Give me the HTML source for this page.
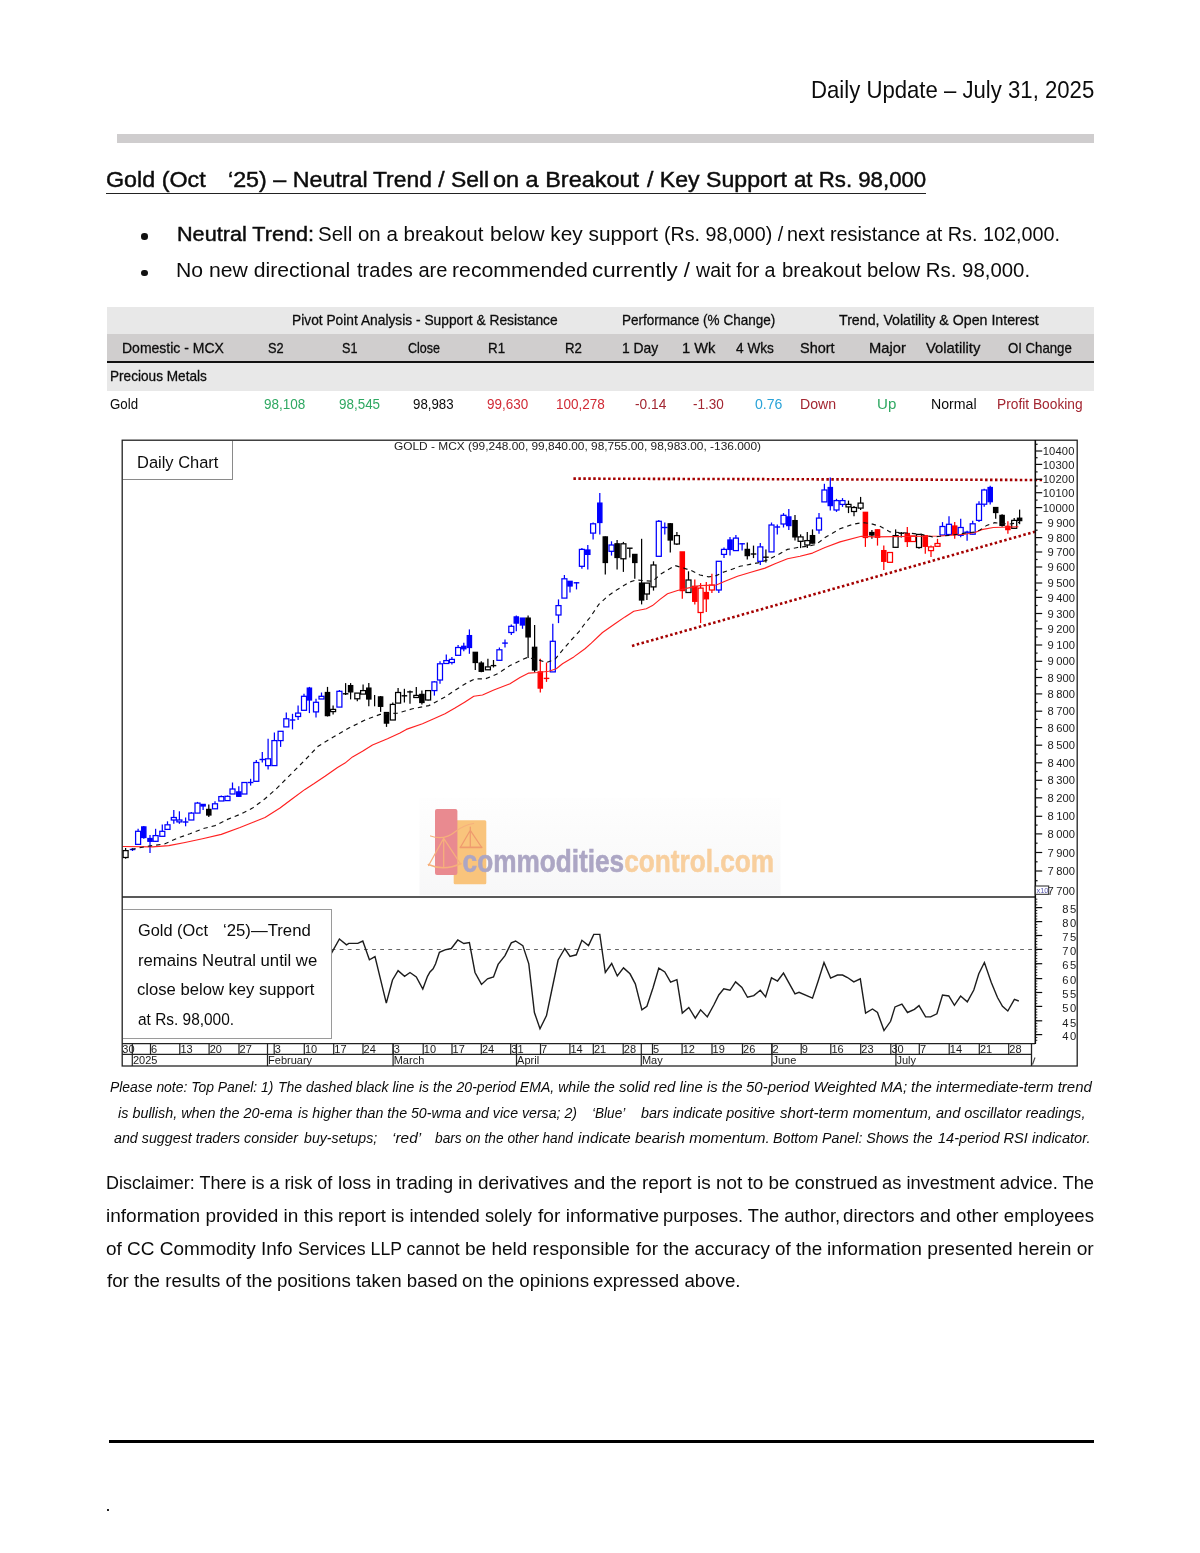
<!DOCTYPE html>
<html lang="en"><head><meta charset="utf-8"><title>Daily Update – July 31, 2025</title>
<style>
html,body{margin:0;padding:0;background:#fff;}
body{width:1200px;height:1553px;position:relative;overflow:hidden;font-family:"Liberation Sans","Noto Sans CJK SC",sans-serif;color:#0b0b0b;}
.t{position:absolute;white-space:nowrap;line-height:1;transform-origin:0 50%;}
.bx{position:absolute;}
</style></head><body>
<div class="bx" style="left:117px;top:134.2px;width:977px;height:8.4px;background:#cfcdce"></div>
<div class="bx" style="left:106.2px;top:192.9px;width:819.8px;height:1.5px;background:#222"></div>
<div class="bx" style="left:141.4px;top:233.4px;width:6.6px;height:6.6px;border-radius:50%;background:#111"></div>
<div class="bx" style="left:141.4px;top:269.6px;width:6.6px;height:6.6px;border-radius:50%;background:#111"></div>
<div class="bx" style="left:107.2px;top:306.5px;width:986.4px;height:27.2px;background:#e8e8e8"></div>
<div class="bx" style="left:107.2px;top:333.7px;width:986.4px;height:27.5px;background:#d0cece"></div>
<div class="bx" style="left:107.2px;top:361.3px;width:986.4px;height:1.6px;background:#111"></div>
<div class="bx" style="left:107.2px;top:363px;width:986.4px;height:27.9px;background:#e8e8e8"></div>
<svg id="chart" width="1200" height="1553" viewBox="0 0 1200 1553" style="position:absolute;left:0;top:0" font-family="'Liberation Sans', sans-serif">
<g id="wm" filter="url(#bl2)">
<defs><filter id="bl2" x="400" y="780" width="400" height="130" filterUnits="userSpaceOnUse"><feGaussianBlur stdDeviation="0.7"/></filter><linearGradient id="wg" x1="0" y1="0" x2="0" y2="1"><stop offset="0" stop-color="#fefefe"/><stop offset="0.45" stop-color="#fbfbfb"/><stop offset="1" stop-color="#f7f7f8"/></linearGradient></defs>
<rect x="419.5" y="798" width="361" height="97.2" fill="url(#wg)"/>
<rect x="453.7" y="820.3" width="32.6" height="64" rx="1.5" fill="#f9c47c"/>
<rect x="435" y="809" width="22.4" height="66" rx="2" fill="#e98a90"/>
<g fill="none" stroke="#f6b07c" stroke-width="1.25" stroke-linecap="round"><path d="M443.7 838.3 L428.6 865.5 M443.7 838.3 L460.6 864 M443.7 838.3 L443.7 867"/><path d="M428.3 864.5 Q444 871.5 461 863.5" stroke-width="1.5"/><path d="M430.5 836 Q444 841 455.5 831.5 Q464 825 473.5 823.5"/></g>
<g fill="none" stroke="#ef9b6e" stroke-width="1.25" stroke-linecap="round"><path d="M470.3 830.3 L460.6 847 M470.3 830.3 L481.4 847 M470.3 827 L470.3 847"/><path d="M460.3 847.3 L481.7 847.3" stroke-width="1.7"/></g>
<text x="462.6" y="871.5" font-size="31" font-weight="bold" textLength="311.5" lengthAdjust="spacingAndGlyphs"><tspan fill="#aca6c4" stroke="#aca6c4" stroke-width="0.6">commodities</tspan><tspan fill="#f8cf9e" stroke="#f8cf9e" stroke-width="0.6">control.com</tspan></text>
</g>
<filter id="bl" x="0" y="0" width="1200" height="1553" filterUnits="userSpaceOnUse"><feGaussianBlur stdDeviation="0.42"/></filter><g filter="url(#bl)">
<text x="394" y="450.3" font-size="11.4" fill="#222" textLength="367" lengthAdjust="spacingAndGlyphs">GOLD - MCX (99,248.00, 99,840.00, 98,755.00, 98,983.00, -136.000)</text>
<g id="candles" stroke-width="1.25">
<line x1="125.6" y1="848.0" x2="125.6" y2="858.7" stroke="#000"/>
<rect x="123.10" y="850.6" width="5.0" height="6.9" fill="#fff" stroke="#000"/>
<line x1="132.5" y1="848.0" x2="132.5" y2="851.0" stroke="#0000ff"/>
<line x1="129.7" y1="849.5" x2="135.3" y2="849.5" stroke="#0000ff" stroke-width="1.4"/>
<line x1="138.1" y1="828.8" x2="138.1" y2="844.4" stroke="#0000ff"/>
<rect x="135.60" y="831.3" width="5.0" height="13.1" fill="#fff" stroke="#0000ff"/>
<line x1="143.8" y1="826.0" x2="143.8" y2="838.8" stroke="#0000ff"/>
<rect x="141.65" y="826.9" width="4.3" height="10.6" fill="#0000ff" stroke="#0000ff"/>
<line x1="150.0" y1="835.0" x2="150.0" y2="853.0" stroke="#0000ff"/>
<rect x="147.85" y="838.5" width="4.3" height="2.8" fill="#0000ff" stroke="#0000ff"/>
<line x1="155.6" y1="828.8" x2="155.6" y2="842.0" stroke="#0000ff"/>
<rect x="153.10" y="835.6" width="5.0" height="5.7" fill="#fff" stroke="#0000ff"/>
<line x1="162.3" y1="824.4" x2="162.3" y2="836.3" stroke="#0000ff"/>
<rect x="159.80" y="831.3" width="5.0" height="5.0" fill="#fff" stroke="#0000ff"/>
<line x1="167.5" y1="821.3" x2="167.5" y2="829.4" stroke="#0000ff"/>
<rect x="165.00" y="824.8" width="5.0" height="4.6" fill="#fff" stroke="#0000ff"/>
<line x1="173.8" y1="810.0" x2="173.8" y2="823.8" stroke="#0000ff"/>
<rect x="171.30" y="817.5" width="5.0" height="2.5" fill="#fff" stroke="#0000ff"/>
<line x1="179.4" y1="811.3" x2="179.4" y2="823.8" stroke="#0000ff"/>
<rect x="176.90" y="820.0" width="5.0" height="1.9" fill="#fff" stroke="#0000ff"/>
<line x1="185.6" y1="817.5" x2="185.6" y2="826.3" stroke="#0000ff"/>
<line x1="182.8" y1="822.0" x2="188.4" y2="822.0" stroke="#0000ff" stroke-width="1.4"/>
<line x1="191.3" y1="811.9" x2="191.3" y2="820.0" stroke="#0000ff"/>
<rect x="188.80" y="813.1" width="5.0" height="6.9" fill="#fff" stroke="#0000ff"/>
<line x1="197.5" y1="801.9" x2="197.5" y2="813.1" stroke="#0000ff"/>
<rect x="195.00" y="803.1" width="5.0" height="10.0" fill="#fff" stroke="#0000ff"/>
<line x1="203.1" y1="804.0" x2="203.1" y2="810.0" stroke="#0000ff"/>
<rect x="200.95" y="804.4" width="4.3" height="1.6" fill="#0000ff" stroke="#0000ff"/>
<line x1="208.8" y1="804.4" x2="208.8" y2="816.9" stroke="#000"/>
<rect x="206.65" y="809.4" width="4.3" height="5.6" fill="#000" stroke="#000"/>
<line x1="215.0" y1="801.3" x2="215.0" y2="809.0" stroke="#0000ff"/>
<rect x="212.50" y="803.8" width="5.0" height="5.0" fill="#fff" stroke="#0000ff"/>
<line x1="221.3" y1="795.6" x2="221.3" y2="801.0" stroke="#0000ff"/>
<rect x="218.80" y="796.6" width="5.0" height="4.4" fill="#fff" stroke="#0000ff"/>
<line x1="227.5" y1="795.5" x2="227.5" y2="801.0" stroke="#0000ff"/>
<rect x="225.00" y="796.3" width="5.0" height="4.3" fill="#fff" stroke="#0000ff"/>
<line x1="232.5" y1="782.5" x2="232.5" y2="794.0" stroke="#0000ff"/>
<rect x="230.00" y="789.0" width="5.0" height="5.0" fill="#fff" stroke="#0000ff"/>
<line x1="238.8" y1="786.3" x2="238.8" y2="797.0" stroke="#0000ff"/>
<rect x="236.65" y="791.9" width="4.3" height="4.4" fill="#0000ff" stroke="#0000ff"/>
<line x1="244.4" y1="782.5" x2="244.4" y2="794.0" stroke="#0000ff"/>
<rect x="241.90" y="782.5" width="5.0" height="11.5" fill="#fff" stroke="#0000ff"/>
<line x1="250.6" y1="778.8" x2="250.6" y2="785.6" stroke="#0000ff"/>
<line x1="247.8" y1="782.5" x2="253.4" y2="782.5" stroke="#0000ff" stroke-width="1.4"/>
<line x1="256.3" y1="760.0" x2="256.3" y2="781.5" stroke="#0000ff"/>
<rect x="253.80" y="762.5" width="5.0" height="18.8" fill="#fff" stroke="#0000ff"/>
<line x1="262.3" y1="751.9" x2="262.3" y2="762.5" stroke="#0000ff"/>
<line x1="259.5" y1="759.5" x2="265.1" y2="759.5" stroke="#0000ff" stroke-width="1.4"/>
<line x1="268.1" y1="738.8" x2="268.1" y2="769.4" stroke="#0000ff"/>
<rect x="265.60" y="758.8" width="5.0" height="6.8" fill="#fff" stroke="#0000ff"/>
<line x1="274.4" y1="732.5" x2="274.4" y2="765.6" stroke="#0000ff"/>
<rect x="271.90" y="740.6" width="5.0" height="25.0" fill="#fff" stroke="#0000ff"/>
<line x1="280.6" y1="731.3" x2="280.6" y2="746.9" stroke="#0000ff"/>
<rect x="278.10" y="731.3" width="5.0" height="9.3" fill="#fff" stroke="#0000ff"/>
<line x1="286.3" y1="712.5" x2="286.3" y2="726.9" stroke="#0000ff"/>
<rect x="283.80" y="718.8" width="5.0" height="8.1" fill="#fff" stroke="#0000ff"/>
<line x1="292.5" y1="713.8" x2="292.5" y2="729.4" stroke="#0000ff"/>
<line x1="289.7" y1="720.0" x2="295.3" y2="720.0" stroke="#0000ff" stroke-width="1.4"/>
<line x1="298.1" y1="705.6" x2="298.1" y2="720.0" stroke="#0000ff"/>
<rect x="295.60" y="713.1" width="5.0" height="3.4" fill="#fff" stroke="#0000ff"/>
<line x1="304.0" y1="693.8" x2="304.0" y2="710.3" stroke="#0000ff"/>
<rect x="301.50" y="696.3" width="5.0" height="14.0" fill="#fff" stroke="#0000ff"/>
<line x1="309.4" y1="686.9" x2="309.4" y2="713.1" stroke="#0000ff"/>
<rect x="307.25" y="688.1" width="4.3" height="11.9" fill="#0000ff" stroke="#0000ff"/>
<line x1="316.0" y1="698.8" x2="316.0" y2="717.5" stroke="#0000ff"/>
<rect x="313.50" y="702.3" width="5.0" height="9.6" fill="#fff" stroke="#0000ff"/>
<line x1="321.5" y1="692.5" x2="321.5" y2="699.0" stroke="#0000ff"/>
<rect x="319.00" y="696.3" width="5.0" height="2.7" fill="#fff" stroke="#0000ff"/>
<line x1="327.5" y1="686.9" x2="327.5" y2="716.5" stroke="#000"/>
<rect x="325.35" y="692.5" width="4.3" height="23.1" fill="#000" stroke="#000"/>
<line x1="333.1" y1="705.6" x2="333.1" y2="714.4" stroke="#000"/>
<rect x="330.60" y="709.4" width="5.0" height="2.2" fill="#fff" stroke="#000"/>
<line x1="339.4" y1="690.0" x2="339.4" y2="707.1" stroke="#0000ff"/>
<rect x="336.90" y="691.3" width="5.0" height="15.8" fill="#fff" stroke="#0000ff"/>
<line x1="345.6" y1="683.1" x2="345.6" y2="695.0" stroke="#000"/>
<line x1="342.8" y1="693.8" x2="348.4" y2="693.8" stroke="#000" stroke-width="1.4"/>
<line x1="350.6" y1="683.1" x2="350.6" y2="699.4" stroke="#000"/>
<rect x="348.45" y="685.6" width="4.3" height="6.3" fill="#000" stroke="#000"/>
<line x1="357.3" y1="693.1" x2="357.3" y2="701.3" stroke="#000"/>
<rect x="354.80" y="693.1" width="5.0" height="5.7" fill="#fff" stroke="#000"/>
<line x1="363.1" y1="684.4" x2="363.1" y2="694.1" stroke="#000"/>
<rect x="360.60" y="690.6" width="5.0" height="3.5" fill="#fff" stroke="#000"/>
<line x1="368.8" y1="683.1" x2="368.8" y2="706.3" stroke="#000"/>
<rect x="366.65" y="688.1" width="4.3" height="10.9" fill="#000" stroke="#000"/>
<line x1="374.6" y1="695.0" x2="374.6" y2="706.3" stroke="#000"/>
<line x1="380.6" y1="696.0" x2="380.6" y2="711.9" stroke="#000"/>
<rect x="378.45" y="696.9" width="4.3" height="9.4" fill="#000" stroke="#000"/>
<line x1="386.5" y1="712.5" x2="386.5" y2="726.9" stroke="#000"/>
<rect x="384.35" y="712.5" width="4.3" height="10.6" fill="#000" stroke="#000"/>
<line x1="392.8" y1="702.5" x2="392.8" y2="720.0" stroke="#000"/>
<rect x="390.30" y="704.4" width="5.0" height="15.6" fill="#fff" stroke="#000"/>
<line x1="398.1" y1="688.1" x2="398.1" y2="703.1" stroke="#000"/>
<rect x="395.60" y="692.5" width="5.0" height="10.6" fill="#fff" stroke="#000"/>
<line x1="404.4" y1="688.8" x2="404.4" y2="702.5" stroke="#000"/>
<line x1="401.6" y1="695.8" x2="407.2" y2="695.8" stroke="#000" stroke-width="1.4"/>
<line x1="410.0" y1="690.6" x2="410.0" y2="703.8" stroke="#000"/>
<line x1="407.2" y1="691.9" x2="412.8" y2="691.9" stroke="#000" stroke-width="1.4"/>
<line x1="416.3" y1="686.9" x2="416.3" y2="698.0" stroke="#000"/>
<rect x="413.80" y="695.4" width="5.0" height="2.1" fill="#fff" stroke="#000"/>
<line x1="421.9" y1="690.6" x2="421.9" y2="704.4" stroke="#000"/>
<rect x="419.75" y="694.4" width="4.3" height="8.1" fill="#000" stroke="#000"/>
<line x1="428.1" y1="690.0" x2="428.1" y2="700.5" stroke="#000"/>
<rect x="425.60" y="690.6" width="5.0" height="9.4" fill="#fff" stroke="#000"/>
<line x1="434.4" y1="681.0" x2="434.4" y2="695.6" stroke="#0000ff"/>
<rect x="431.90" y="681.9" width="5.0" height="8.7" fill="#fff" stroke="#0000ff"/>
<line x1="440.0" y1="661.3" x2="440.0" y2="683.8" stroke="#0000ff"/>
<rect x="437.50" y="663.8" width="5.0" height="16.2" fill="#fff" stroke="#0000ff"/>
<line x1="446.3" y1="654.4" x2="446.3" y2="664.0" stroke="#0000ff"/>
<rect x="443.80" y="660.6" width="5.0" height="2.9" fill="#fff" stroke="#0000ff"/>
<line x1="451.9" y1="656.9" x2="451.9" y2="664.4" stroke="#0000ff"/>
<rect x="449.40" y="659.4" width="5.0" height="3.1" fill="#fff" stroke="#0000ff"/>
<line x1="458.1" y1="645.0" x2="458.1" y2="655.3" stroke="#0000ff"/>
<rect x="455.60" y="647.5" width="5.0" height="7.8" fill="#fff" stroke="#0000ff"/>
<line x1="463.8" y1="642.8" x2="463.8" y2="651.3" stroke="#0000ff"/>
<rect x="461.65" y="646.3" width="4.3" height="2.5" fill="#0000ff" stroke="#0000ff"/>
<line x1="469.4" y1="629.4" x2="469.4" y2="653.8" stroke="#0000ff"/>
<rect x="467.25" y="635.6" width="4.3" height="11.9" fill="#0000ff" stroke="#0000ff"/>
<line x1="475.3" y1="652.0" x2="475.3" y2="670.0" stroke="#000"/>
<rect x="473.15" y="652.3" width="4.3" height="10.2" fill="#000" stroke="#000"/>
<line x1="481.3" y1="661.3" x2="481.3" y2="672.3" stroke="#000"/>
<rect x="479.15" y="663.1" width="4.3" height="8.2" fill="#000" stroke="#000"/>
<line x1="487.9" y1="658.8" x2="487.9" y2="670.0" stroke="#000"/>
<rect x="485.40" y="666.9" width="5.0" height="2.9" fill="#fff" stroke="#000"/>
<line x1="493.5" y1="660.0" x2="493.5" y2="667.5" stroke="#000"/>
<line x1="490.7" y1="665.6" x2="496.3" y2="665.6" stroke="#000" stroke-width="1.4"/>
<line x1="499.4" y1="647.5" x2="499.4" y2="660.3" stroke="#0000ff"/>
<rect x="496.90" y="649.8" width="5.0" height="10.5" fill="#fff" stroke="#0000ff"/>
<line x1="505.0" y1="639.4" x2="505.0" y2="647.5" stroke="#0000ff"/>
<line x1="502.2" y1="643.1" x2="507.8" y2="643.1" stroke="#0000ff" stroke-width="1.4"/>
<line x1="511.3" y1="624.4" x2="511.3" y2="635.0" stroke="#0000ff"/>
<rect x="508.80" y="626.3" width="5.0" height="6.2" fill="#fff" stroke="#0000ff"/>
<line x1="516.3" y1="615.6" x2="516.3" y2="631.3" stroke="#0000ff"/>
<rect x="514.15" y="616.9" width="4.3" height="6.2" fill="#0000ff" stroke="#0000ff"/>
<line x1="522.5" y1="618.0" x2="522.5" y2="628.8" stroke="#0000ff"/>
<rect x="520.35" y="618.1" width="4.3" height="6.9" fill="#0000ff" stroke="#0000ff"/>
<line x1="528.1" y1="615.6" x2="528.1" y2="658.1" stroke="#000"/>
<rect x="525.95" y="618.1" width="4.3" height="18.8" fill="#000" stroke="#000"/>
<line x1="534.6" y1="625.0" x2="534.6" y2="672.5" stroke="#000"/>
<rect x="532.45" y="647.3" width="4.3" height="22.7" fill="#000" stroke="#000"/>
<line x1="540.3" y1="658.8" x2="540.3" y2="692.5" stroke="#ff0000"/>
<rect x="538.15" y="671.9" width="4.3" height="16.2" fill="#ff0000" stroke="#ff0000"/>
<line x1="546.5" y1="662.5" x2="546.5" y2="681.9" stroke="#ff0000"/>
<line x1="543.7" y1="678.4" x2="549.3" y2="678.4" stroke="#ff0000" stroke-width="1.4"/>
<line x1="552.8" y1="623.8" x2="552.8" y2="671.9" stroke="#0000ff"/>
<rect x="550.30" y="641.3" width="5.0" height="30.6" fill="#fff" stroke="#0000ff"/>
<line x1="558.5" y1="599.4" x2="558.5" y2="623.1" stroke="#0000ff"/>
<rect x="556.00" y="605.6" width="5.0" height="9.4" fill="#fff" stroke="#0000ff"/>
<line x1="564.4" y1="575.0" x2="564.4" y2="598.1" stroke="#0000ff"/>
<rect x="561.90" y="578.8" width="5.0" height="19.3" fill="#fff" stroke="#0000ff"/>
<line x1="570.0" y1="581.0" x2="570.0" y2="592.5" stroke="#0000ff"/>
<rect x="567.85" y="581.3" width="4.3" height="4.7" fill="#0000ff" stroke="#0000ff"/>
<line x1="576.5" y1="582.0" x2="576.5" y2="589.4" stroke="#0000ff"/>
<line x1="573.7" y1="582.8" x2="579.3" y2="582.8" stroke="#0000ff" stroke-width="1.4"/>
<line x1="581.9" y1="548.0" x2="581.9" y2="568.8" stroke="#0000ff"/>
<rect x="579.40" y="549.4" width="5.0" height="16.9" fill="#fff" stroke="#0000ff"/>
<line x1="587.8" y1="545.0" x2="587.8" y2="569.4" stroke="#0000ff"/>
<rect x="585.65" y="550.0" width="4.3" height="4.4" fill="#0000ff" stroke="#0000ff"/>
<line x1="593.1" y1="522.5" x2="593.1" y2="539.4" stroke="#0000ff"/>
<rect x="590.60" y="523.8" width="5.0" height="9.3" fill="#fff" stroke="#0000ff"/>
<line x1="599.8" y1="493.1" x2="599.8" y2="534.4" stroke="#0000ff"/>
<rect x="597.65" y="503.1" width="4.3" height="19.4" fill="#0000ff" stroke="#0000ff"/>
<line x1="605.3" y1="536.5" x2="605.3" y2="574.4" stroke="#000"/>
<rect x="603.15" y="536.9" width="4.3" height="25.6" fill="#000" stroke="#000"/>
<line x1="611.5" y1="541.3" x2="611.5" y2="555.6" stroke="#0000ff"/>
<rect x="609.00" y="545.0" width="5.0" height="6.3" fill="#fff" stroke="#0000ff"/>
<line x1="617.1" y1="540.0" x2="617.1" y2="569.4" stroke="#000"/>
<rect x="614.95" y="543.8" width="4.3" height="13.7" fill="#000" stroke="#000"/>
<line x1="623.4" y1="541.9" x2="623.4" y2="571.9" stroke="#000"/>
<rect x="620.90" y="543.8" width="5.0" height="15.0" fill="#fff" stroke="#000"/>
<line x1="629.8" y1="548.0" x2="629.8" y2="557.5" stroke="#000"/>
<line x1="627.0" y1="548.2" x2="632.6" y2="548.2" stroke="#000" stroke-width="1.4"/>
<line x1="634.8" y1="554.0" x2="634.8" y2="578.8" stroke="#000"/>
<rect x="632.65" y="554.4" width="4.3" height="8.1" fill="#000" stroke="#000"/>
<line x1="641.6" y1="538.8" x2="641.6" y2="604.4" stroke="#000"/>
<rect x="639.45" y="583.1" width="4.3" height="16.9" fill="#000" stroke="#000"/>
<line x1="646.9" y1="583.1" x2="646.9" y2="600.0" stroke="#000"/>
<rect x="644.40" y="583.1" width="5.0" height="10.9" fill="#fff" stroke="#000"/>
<line x1="653.5" y1="561.3" x2="653.5" y2="590.6" stroke="#000"/>
<rect x="651.00" y="565.0" width="5.0" height="21.9" fill="#fff" stroke="#000"/>
<line x1="658.8" y1="520.0" x2="658.8" y2="556.3" stroke="#0000ff"/>
<rect x="656.30" y="521.3" width="5.0" height="35.0" fill="#fff" stroke="#0000ff"/>
<line x1="664.8" y1="522.5" x2="664.8" y2="534.4" stroke="#0000ff"/>
<line x1="662.0" y1="527.5" x2="667.6" y2="527.5" stroke="#0000ff" stroke-width="1.4"/>
<line x1="670.3" y1="523.0" x2="670.3" y2="552.5" stroke="#000"/>
<rect x="668.15" y="523.8" width="4.3" height="16.2" fill="#000" stroke="#000"/>
<line x1="676.9" y1="531.9" x2="676.9" y2="545.0" stroke="#000"/>
<rect x="674.40" y="535.6" width="5.0" height="8.4" fill="#fff" stroke="#000"/>
<line x1="682.3" y1="551.9" x2="682.3" y2="598.8" stroke="#ff0000"/>
<rect x="680.15" y="551.9" width="4.3" height="38.7" fill="#ff0000" stroke="#ff0000"/>
<line x1="688.5" y1="571.3" x2="688.5" y2="592.5" stroke="#000"/>
<rect x="686.00" y="580.0" width="5.0" height="12.5" fill="#fff" stroke="#000"/>
<line x1="694.8" y1="579.4" x2="694.8" y2="604.4" stroke="#ff0000"/>
<rect x="692.65" y="586.3" width="4.3" height="15.0" fill="#ff0000" stroke="#ff0000"/>
<line x1="700.6" y1="583.1" x2="700.6" y2="623.1" stroke="#ff0000"/>
<rect x="698.10" y="588.1" width="5.0" height="24.4" fill="#fff" stroke="#ff0000"/>
<line x1="706.3" y1="581.9" x2="706.3" y2="611.9" stroke="#ff0000"/>
<rect x="704.15" y="592.5" width="4.3" height="6.3" fill="#ff0000" stroke="#ff0000"/>
<line x1="711.9" y1="573.8" x2="711.9" y2="593.1" stroke="#ff0000"/>
<rect x="709.40" y="585.0" width="5.0" height="5.0" fill="#fff" stroke="#ff0000"/>
<line x1="718.8" y1="561.0" x2="718.8" y2="593.1" stroke="#0000ff"/>
<rect x="716.30" y="561.3" width="5.0" height="28.7" fill="#fff" stroke="#0000ff"/>
<line x1="724.0" y1="547.5" x2="724.0" y2="558.1" stroke="#0000ff"/>
<rect x="721.50" y="549.4" width="5.0" height="5.0" fill="#fff" stroke="#0000ff"/>
<line x1="730.0" y1="536.9" x2="730.0" y2="555.6" stroke="#0000ff"/>
<rect x="727.85" y="540.0" width="4.3" height="9.4" fill="#0000ff" stroke="#0000ff"/>
<line x1="735.9" y1="535.0" x2="735.9" y2="551.0" stroke="#0000ff"/>
<rect x="733.40" y="538.1" width="5.0" height="12.5" fill="#fff" stroke="#0000ff"/>
<line x1="742.1" y1="543.1" x2="742.1" y2="550.6" stroke="#0000ff"/>
<line x1="739.3" y1="543.8" x2="744.9" y2="543.8" stroke="#0000ff" stroke-width="1.4"/>
<line x1="747.3" y1="542.5" x2="747.3" y2="559.4" stroke="#000"/>
<rect x="745.15" y="549.4" width="4.3" height="6.2" fill="#000" stroke="#000"/>
<line x1="753.5" y1="545.6" x2="753.5" y2="558.1" stroke="#000"/>
<line x1="750.7" y1="554.0" x2="756.3" y2="554.0" stroke="#000" stroke-width="1.4"/>
<line x1="760.3" y1="543.1" x2="760.3" y2="565.0" stroke="#0000ff"/>
<rect x="757.80" y="546.9" width="5.0" height="14.4" fill="#fff" stroke="#0000ff"/>
<line x1="765.9" y1="549.4" x2="765.9" y2="562.5" stroke="#000"/>
<line x1="763.1" y1="557.2" x2="768.7" y2="557.2" stroke="#000" stroke-width="1.4"/>
<line x1="771.5" y1="522.5" x2="771.5" y2="552.0" stroke="#0000ff"/>
<rect x="769.00" y="525.0" width="5.0" height="26.9" fill="#fff" stroke="#0000ff"/>
<line x1="777.3" y1="524.4" x2="777.3" y2="534.4" stroke="#0000ff"/>
<line x1="774.5" y1="527.0" x2="780.1" y2="527.0" stroke="#0000ff" stroke-width="1.4"/>
<line x1="783.5" y1="513.1" x2="783.5" y2="527.5" stroke="#0000ff"/>
<rect x="781.00" y="515.3" width="5.0" height="8.7" fill="#fff" stroke="#0000ff"/>
<line x1="788.8" y1="509.0" x2="788.8" y2="530.0" stroke="#0000ff"/>
<rect x="786.65" y="516.9" width="4.3" height="8.7" fill="#0000ff" stroke="#0000ff"/>
<line x1="795.0" y1="515.0" x2="795.0" y2="540.6" stroke="#000"/>
<rect x="792.85" y="520.6" width="4.3" height="16.3" fill="#000" stroke="#000"/>
<line x1="800.6" y1="534.4" x2="800.6" y2="548.1" stroke="#000"/>
<rect x="798.10" y="536.9" width="5.0" height="4.4" fill="#fff" stroke="#000"/>
<line x1="807.3" y1="531.9" x2="807.3" y2="548.1" stroke="#000"/>
<rect x="804.80" y="540.6" width="5.0" height="4.4" fill="#fff" stroke="#000"/>
<line x1="812.5" y1="529.4" x2="812.5" y2="543.5" stroke="#000"/>
<rect x="810.35" y="535.6" width="4.3" height="7.5" fill="#000" stroke="#000"/>
<line x1="819.0" y1="513.1" x2="819.0" y2="533.8" stroke="#0000ff"/>
<rect x="816.50" y="518.1" width="5.0" height="11.9" fill="#fff" stroke="#0000ff"/>
<line x1="824.4" y1="483.8" x2="824.4" y2="502.0" stroke="#0000ff"/>
<rect x="821.90" y="490.0" width="5.0" height="11.9" fill="#fff" stroke="#0000ff"/>
<line x1="830.3" y1="477.5" x2="830.3" y2="510.6" stroke="#0000ff"/>
<rect x="828.15" y="487.5" width="4.3" height="18.1" fill="#0000ff" stroke="#0000ff"/>
<line x1="836.5" y1="498.8" x2="836.5" y2="511.9" stroke="#0000ff"/>
<rect x="834.00" y="500.6" width="5.0" height="9.4" fill="#fff" stroke="#0000ff"/>
<line x1="842.5" y1="498.1" x2="842.5" y2="506.9" stroke="#0000ff"/>
<rect x="840.00" y="500.6" width="5.0" height="3.8" fill="#fff" stroke="#0000ff"/>
<line x1="848.5" y1="500.6" x2="848.5" y2="513.1" stroke="#000"/>
<rect x="846.00" y="504.4" width="5.0" height="2.5" fill="#fff" stroke="#000"/>
<line x1="854.0" y1="506.0" x2="854.0" y2="516.3" stroke="#000"/>
<rect x="851.50" y="507.5" width="5.0" height="4.0" fill="#fff" stroke="#000"/>
<line x1="860.6" y1="496.9" x2="860.6" y2="510.0" stroke="#000"/>
<rect x="858.10" y="503.1" width="5.0" height="5.0" fill="#fff" stroke="#000"/>
<line x1="865.4" y1="512.0" x2="865.4" y2="546.9" stroke="#ff0000"/>
<rect x="863.25" y="512.3" width="4.3" height="25.2" fill="#ff0000" stroke="#ff0000"/>
<line x1="871.9" y1="530.0" x2="871.9" y2="538.8" stroke="#000"/>
<rect x="869.75" y="532.5" width="4.3" height="2.5" fill="#000" stroke="#000"/>
<line x1="877.5" y1="529.5" x2="877.5" y2="545.6" stroke="#ff0000"/>
<rect x="875.35" y="529.8" width="4.3" height="7.5" fill="#ff0000" stroke="#ff0000"/>
<line x1="883.8" y1="545.6" x2="883.8" y2="570.0" stroke="#ff0000"/>
<rect x="881.65" y="550.6" width="4.3" height="10.7" fill="#ff0000" stroke="#ff0000"/>
<line x1="890.0" y1="552.0" x2="890.0" y2="562.5" stroke="#ff0000"/>
<rect x="887.50" y="552.5" width="5.0" height="9.8" fill="#fff" stroke="#ff0000"/>
<line x1="895.6" y1="529.4" x2="895.6" y2="547.5" stroke="#000"/>
<rect x="893.10" y="535.6" width="5.0" height="11.7" fill="#fff" stroke="#000"/>
<line x1="901.3" y1="532.0" x2="901.3" y2="537.5" stroke="#000"/>
<line x1="898.5" y1="533.2" x2="904.1" y2="533.2" stroke="#000" stroke-width="1.4"/>
<line x1="907.3" y1="526.9" x2="907.3" y2="546.9" stroke="#ff0000"/>
<rect x="905.15" y="533.5" width="4.3" height="8.0" fill="#ff0000" stroke="#ff0000"/>
<line x1="913.1" y1="536.0" x2="913.1" y2="542.0" stroke="#ff0000"/>
<rect x="910.60" y="536.0" width="5.0" height="5.5" fill="#fff" stroke="#ff0000"/>
<line x1="919.0" y1="534.0" x2="919.0" y2="548.8" stroke="#000"/>
<rect x="916.50" y="534.4" width="5.0" height="13.1" fill="#fff" stroke="#000"/>
<line x1="925.3" y1="535.0" x2="925.3" y2="553.8" stroke="#ff0000"/>
<rect x="923.15" y="535.6" width="4.3" height="10.7" fill="#ff0000" stroke="#ff0000"/>
<line x1="931.0" y1="545.6" x2="931.0" y2="556.9" stroke="#ff0000"/>
<rect x="928.50" y="546.9" width="5.0" height="3.7" fill="#fff" stroke="#ff0000"/>
<line x1="937.5" y1="538.8" x2="937.5" y2="546.5" stroke="#ff0000"/>
<rect x="935.00" y="543.5" width="5.0" height="2.8" fill="#fff" stroke="#ff0000"/>
<line x1="942.5" y1="522.1" x2="942.5" y2="535.0" stroke="#0000ff"/>
<rect x="940.00" y="526.5" width="5.0" height="8.5" fill="#fff" stroke="#0000ff"/>
<line x1="949.0" y1="516.3" x2="949.0" y2="535.0" stroke="#0000ff"/>
<rect x="946.50" y="524.3" width="5.0" height="10.2" fill="#fff" stroke="#0000ff"/>
<line x1="954.7" y1="522.1" x2="954.7" y2="538.8" stroke="#ff0000"/>
<rect x="952.55" y="526.0" width="4.3" height="8.5" fill="#ff0000" stroke="#ff0000"/>
<line x1="960.7" y1="518.8" x2="960.7" y2="537.3" stroke="#0000ff"/>
<rect x="958.20" y="527.5" width="5.0" height="7.8" fill="#fff" stroke="#0000ff"/>
<line x1="967.1" y1="530.8" x2="967.1" y2="540.8" stroke="#0000ff"/>
<line x1="964.3" y1="532.2" x2="969.9" y2="532.2" stroke="#0000ff" stroke-width="1.4"/>
<line x1="972.7" y1="520.8" x2="972.7" y2="534.5" stroke="#0000ff"/>
<rect x="970.20" y="523.8" width="5.0" height="10.4" fill="#fff" stroke="#0000ff"/>
<line x1="979.0" y1="501.3" x2="979.0" y2="522.1" stroke="#0000ff"/>
<rect x="976.50" y="504.2" width="5.0" height="16.2" fill="#fff" stroke="#0000ff"/>
<line x1="984.2" y1="488.8" x2="984.2" y2="506.7" stroke="#0000ff"/>
<rect x="981.70" y="490.0" width="5.0" height="14.2" fill="#fff" stroke="#0000ff"/>
<line x1="990.2" y1="485.8" x2="990.2" y2="504.6" stroke="#0000ff"/>
<rect x="988.05" y="487.5" width="4.3" height="14.2" fill="#0000ff" stroke="#0000ff"/>
<line x1="995.7" y1="507.5" x2="995.7" y2="518.8" stroke="#000"/>
<rect x="993.55" y="507.5" width="4.3" height="5.0" fill="#000" stroke="#000"/>
<line x1="1002.1" y1="514.2" x2="1002.1" y2="526.7" stroke="#000"/>
<rect x="999.95" y="515.4" width="4.3" height="10.0" fill="#000" stroke="#000"/>
<line x1="1007.9" y1="521.3" x2="1007.9" y2="533.8" stroke="#ff0000"/>
<rect x="1005.75" y="526.3" width="4.3" height="3.3" fill="#ff0000" stroke="#ff0000"/>
<line x1="1014.2" y1="517.9" x2="1014.2" y2="528.5" stroke="#000"/>
<rect x="1011.70" y="520.4" width="5.0" height="7.9" fill="#fff" stroke="#000"/>
<line x1="1019.6" y1="509.6" x2="1019.6" y2="524.2" stroke="#000"/>
<rect x="1017.45" y="518.2" width="4.3" height="2.4" fill="#000" stroke="#000"/>
</g>
<g stroke="#a50000" stroke-width="2.6" stroke-dasharray="2.5 2.46" fill="none">
<line x1="573.4" y1="478.6" x2="1042" y2="480"/>
<line x1="632" y1="645.9" x2="1036.5" y2="531.3"/>
</g>
<polyline fill="none" stroke="#ff2020" stroke-width="1.15" stroke-linejoin="round" points="122.5,846.5 152.5,846.9 168.8,845.6 185.0,842.5 202.5,838.8 221.3,834.4 240.0,827.5 252.5,822.5 265.0,817.5 280.0,808.0 292.0,799.0 305.0,789.4 313.8,783.8 325.0,776.3 337.5,767.5 345.0,763.1 352.5,756.9 362.5,751.3 372.5,745.0 387.5,738.8 400.0,733.1 406.3,729.4 422.5,723.8 433.8,718.8 445.0,713.8 455.0,708.1 465.0,701.9 473.8,696.3 482.5,695.0 493.8,690.0 510.0,683.8 520.0,677.5 528.8,673.1 537.5,672.5 548.8,671.3 556.3,668.8 562.5,663.8 573.8,656.9 585.0,648.8 591.3,643.1 602.5,632.5 615.0,623.8 625.0,616.9 633.8,611.3 646.3,608.8 652.5,605.6 660.0,599.4 667.5,593.8 677.5,590.5 687.5,588.1 700.0,585.6 716.3,585.0 725.0,581.3 737.5,576.3 750.0,572.5 765.0,568.1 775.0,563.8 787.5,558.8 800.0,556.3 812.5,553.1 825.0,547.5 840.0,541.9 861.3,536.3 875.0,536.9 940.0,536.0 965.0,534.2 975.0,532.5 981.7,529.6 993.3,527.5 1018.3,526.7"/>
<polyline fill="none" stroke="#111" stroke-width="1.15" stroke-dasharray="4.4 4" points="131.3,849.4 146.3,846.5 165.0,843.8 177.5,838.1 190.0,833.8 202.5,828.8 215.0,825.6 227.5,819.4 240.0,814.4 252.5,808.1 265.0,798.8 276.3,788.8 291.3,773.8 305.0,760.0 318.1,746.3 332.5,737.5 348.8,728.1 365.0,720.0 380.0,714.4 397.5,713.1 412.5,708.8 428.8,705.6 433.8,703.1 445.0,696.9 456.3,689.4 467.5,682.5 475.0,678.8 485.0,679.0 497.5,673.8 510.0,665.6 522.5,659.4 527.5,657.5 538.8,660.0 546.3,662.5 555.0,659.4 560.0,653.1 571.3,640.0 578.8,631.9 583.8,625.0 590.0,617.5 598.8,604.4 607.5,596.3 617.5,589.4 630.0,581.9 636.3,580.0 652.5,581.3 661.3,573.8 675.0,565.6 683.8,568.1 691.3,570.6 700.0,575.0 708.8,576.9 716.3,575.6 722.5,572.5 730.0,570.0 740.0,566.3 750.0,564.4 760.0,562.5 768.8,559.4 777.5,555.0 787.5,549.4 797.5,547.5 807.5,546.3 816.3,544.4 825.0,537.5 840.0,528.8 852.5,524.4 862.5,522.5 871.3,523.8 880.0,526.3 890.0,531.9 900.0,532.5 910.0,533.1 921.3,534.4 932.5,536.9 940.0,536.3 952.5,535.0 965.0,533.1 975.0,532.0 980.0,530.0 986.7,525.4 994.6,522.7 1002.0,523.5 1010.0,524.0 1019.0,522.5"/>
<line x1="331.6" y1="949.5" x2="1034" y2="949.5" stroke="#666" stroke-width="1.2" stroke-dasharray="3.8 4.3"/>
<polyline fill="none" stroke="#1c1c1c" stroke-width="1.4" stroke-linejoin="miter" points="331.5,953.1 339.4,939.0 346.5,944.8 348.8,943.4 357.8,943.4 362.8,941.0 369.4,959.8 375.0,956.6 386.3,1003.1 392.5,980.0 398.1,970.6 404.6,976.3 410.0,972.5 416.3,976.9 422.8,989.0 427.5,976.3 430.0,971.9 433.1,968.8 435.6,963.8 439.4,952.3 445.0,949.8 451.3,948.5 457.8,940.0 463.8,943.5 469.4,942.5 475.0,972.5 481.5,984.4 487.5,978.8 493.5,976.9 498.1,964.4 505.0,955.6 511.3,942.9 515.6,941.0 522.8,945.6 528.8,963.8 534.4,1012.5 540.0,1028.8 546.5,1015.6 551.3,992.5 558.1,960.0 564.8,948.5 570.0,956.5 576.3,954.8 581.9,940.3 588.5,945.6 593.8,934.4 599.8,934.4 605.3,972.5 611.7,963.5 617.3,976.0 623.5,967.9 630.0,973.8 635.3,983.8 641.9,1009.8 646.9,1006.3 653.1,987.5 658.8,968.1 664.8,971.9 670.6,982.1 676.9,979.6 682.3,1013.1 688.8,1007.5 695.3,1018.1 700.6,1009.8 707.3,1016.9 713.8,1005.0 718.8,995.0 723.8,988.8 730.0,990.3 735.6,981.9 741.9,987.5 747.5,997.3 753.8,995.6 760.3,990.3 765.6,996.9 771.5,977.8 777.5,981.0 783.5,973.1 795.0,993.8 799.0,992.3 812.5,998.1 818.1,981.3 824.0,962.5 830.6,978.1 837.5,975.0 842.5,975.0 847.5,977.5 853.8,981.9 860.3,978.8 865.6,1013.1 872.5,1009.0 877.5,1012.5 884.0,1030.6 890.6,1021.3 895.0,1006.9 901.9,1004.0 907.5,1012.5 914.4,1009.4 919.0,1005.6 925.6,1016.9 930.6,1016.9 936.9,1013.8 942.5,995.0 948.8,996.0 954.4,1005.3 960.6,996.0 967.3,1001.9 973.8,990.0 978.8,973.8 984.4,962.5 991.3,982.5 997.5,997.5 1002.5,1006.3 1007.8,1011.0 1014.4,999.4 1018.8,1001.0"/>
<g stroke="#222" stroke-width="1.3" fill="none">
<rect x="122.2" y="440.2" width="955" height="625.8"/>
<line x1="122" y1="897" x2="1035" y2="897"/>
<line x1="122" y1="1043.6" x2="1035" y2="1043.6"/>
<line x1="122" y1="1054.3" x2="1031.5" y2="1054.3"/>
<line x1="1031.5" y1="1043.6" x2="1031.5" y2="1066"/>
</g>
<line x1="1035.3" y1="440" x2="1035.3" y2="1044" stroke="#111" stroke-width="1.6"/>
<g stroke="#111" stroke-width="1.2">
<line x1="1035.3" y1="451.0" x2="1042.2" y2="451.0"/>
<line x1="1035.3" y1="457.7" x2="1037.6" y2="457.7"/>
<line x1="1035.3" y1="464.4" x2="1042.2" y2="464.4"/>
<line x1="1035.3" y1="471.9" x2="1037.6" y2="471.9"/>
<line x1="1035.3" y1="479.3" x2="1042.2" y2="479.3"/>
<line x1="1035.3" y1="486.0" x2="1037.6" y2="486.0"/>
<line x1="1035.3" y1="492.7" x2="1042.2" y2="492.7"/>
<line x1="1035.3" y1="500.1" x2="1037.6" y2="500.1"/>
<line x1="1035.3" y1="507.6" x2="1042.2" y2="507.6"/>
<line x1="1035.3" y1="515.2" x2="1037.6" y2="515.2"/>
<line x1="1035.3" y1="522.7" x2="1042.2" y2="522.7"/>
<line x1="1035.3" y1="530.2" x2="1037.6" y2="530.2"/>
<line x1="1035.3" y1="537.6" x2="1042.2" y2="537.6"/>
<line x1="1035.3" y1="544.8" x2="1037.6" y2="544.8"/>
<line x1="1035.3" y1="552.0" x2="1042.2" y2="552.0"/>
<line x1="1035.3" y1="559.5" x2="1037.6" y2="559.5"/>
<line x1="1035.3" y1="567.0" x2="1042.2" y2="567.0"/>
<line x1="1035.3" y1="575.0" x2="1037.6" y2="575.0"/>
<line x1="1035.3" y1="583.0" x2="1042.2" y2="583.0"/>
<line x1="1035.3" y1="590.2" x2="1037.6" y2="590.2"/>
<line x1="1035.3" y1="597.4" x2="1042.2" y2="597.4"/>
<line x1="1035.3" y1="605.5" x2="1037.6" y2="605.5"/>
<line x1="1035.3" y1="613.5" x2="1042.2" y2="613.5"/>
<line x1="1035.3" y1="621.1" x2="1037.6" y2="621.1"/>
<line x1="1035.3" y1="628.8" x2="1042.2" y2="628.8"/>
<line x1="1035.3" y1="636.9" x2="1037.6" y2="636.9"/>
<line x1="1035.3" y1="645.0" x2="1042.2" y2="645.0"/>
<line x1="1035.3" y1="653.1" x2="1037.6" y2="653.1"/>
<line x1="1035.3" y1="661.3" x2="1042.2" y2="661.3"/>
<line x1="1035.3" y1="669.4" x2="1037.6" y2="669.4"/>
<line x1="1035.3" y1="677.5" x2="1042.2" y2="677.5"/>
<line x1="1035.3" y1="685.7" x2="1037.6" y2="685.7"/>
<line x1="1035.3" y1="693.9" x2="1042.2" y2="693.9"/>
<line x1="1035.3" y1="702.5" x2="1037.6" y2="702.5"/>
<line x1="1035.3" y1="711.2" x2="1042.2" y2="711.2"/>
<line x1="1035.3" y1="719.4" x2="1037.6" y2="719.4"/>
<line x1="1035.3" y1="727.6" x2="1042.2" y2="727.6"/>
<line x1="1035.3" y1="736.4" x2="1037.6" y2="736.4"/>
<line x1="1035.3" y1="745.2" x2="1042.2" y2="745.2"/>
<line x1="1035.3" y1="754.0" x2="1037.6" y2="754.0"/>
<line x1="1035.3" y1="762.8" x2="1042.2" y2="762.8"/>
<line x1="1035.3" y1="771.5" x2="1037.6" y2="771.5"/>
<line x1="1035.3" y1="780.3" x2="1042.2" y2="780.3"/>
<line x1="1035.3" y1="789.0" x2="1037.6" y2="789.0"/>
<line x1="1035.3" y1="797.8" x2="1042.2" y2="797.8"/>
<line x1="1035.3" y1="807.0" x2="1037.6" y2="807.0"/>
<line x1="1035.3" y1="816.3" x2="1042.2" y2="816.3"/>
<line x1="1035.3" y1="825.1" x2="1037.6" y2="825.1"/>
<line x1="1035.3" y1="833.9" x2="1042.2" y2="833.9"/>
<line x1="1035.3" y1="843.2" x2="1037.6" y2="843.2"/>
<line x1="1035.3" y1="852.5" x2="1042.2" y2="852.5"/>
<line x1="1035.3" y1="861.8" x2="1037.6" y2="861.8"/>
<line x1="1035.3" y1="871.0" x2="1042.2" y2="871.0"/>
<line x1="1035.3" y1="880.7" x2="1037.6" y2="880.7"/>
<line x1="1035.3" y1="890.4" x2="1042.2" y2="890.4"/>
<line x1="1035.3" y1="444.3" x2="1037.6" y2="444.3"/>
<line x1="1035.3" y1="907.6" x2="1042.2" y2="907.6"/>
<line x1="1035.3" y1="921.6" x2="1042.2" y2="921.6"/>
<line x1="1035.3" y1="935.5" x2="1042.2" y2="935.5"/>
<line x1="1035.3" y1="949.4" x2="1042.2" y2="949.4"/>
<line x1="1035.3" y1="963.7" x2="1042.2" y2="963.7"/>
<line x1="1035.3" y1="978.6" x2="1042.2" y2="978.6"/>
<line x1="1035.3" y1="992.5" x2="1042.2" y2="992.5"/>
<line x1="1035.3" y1="1006.4" x2="1042.2" y2="1006.4"/>
<line x1="1035.3" y1="1020.8" x2="1042.2" y2="1020.8"/>
<line x1="1035.3" y1="1034.6" x2="1042.2" y2="1034.6"/>
<line x1="1035.3" y1="899.20" x2="1037.3" y2="899.20" stroke-width="0.9"/>
<line x1="1035.3" y1="902.02" x2="1037.3" y2="902.02" stroke-width="0.9"/>
<line x1="1035.3" y1="904.84" x2="1037.3" y2="904.84" stroke-width="0.9"/>
<line x1="1035.3" y1="907.67" x2="1037.3" y2="907.67" stroke-width="0.9"/>
<line x1="1035.3" y1="910.49" x2="1037.3" y2="910.49" stroke-width="0.9"/>
<line x1="1035.3" y1="913.31" x2="1037.3" y2="913.31" stroke-width="0.9"/>
<line x1="1035.3" y1="916.13" x2="1037.3" y2="916.13" stroke-width="0.9"/>
<line x1="1035.3" y1="918.95" x2="1037.3" y2="918.95" stroke-width="0.9"/>
<line x1="1035.3" y1="921.78" x2="1037.3" y2="921.78" stroke-width="0.9"/>
<line x1="1035.3" y1="924.60" x2="1037.3" y2="924.60" stroke-width="0.9"/>
<line x1="1035.3" y1="927.42" x2="1037.3" y2="927.42" stroke-width="0.9"/>
<line x1="1035.3" y1="930.24" x2="1037.3" y2="930.24" stroke-width="0.9"/>
<line x1="1035.3" y1="933.06" x2="1037.3" y2="933.06" stroke-width="0.9"/>
<line x1="1035.3" y1="935.89" x2="1037.3" y2="935.89" stroke-width="0.9"/>
<line x1="1035.3" y1="938.71" x2="1037.3" y2="938.71" stroke-width="0.9"/>
<line x1="1035.3" y1="941.53" x2="1037.3" y2="941.53" stroke-width="0.9"/>
<line x1="1035.3" y1="944.35" x2="1037.3" y2="944.35" stroke-width="0.9"/>
<line x1="1035.3" y1="947.17" x2="1037.3" y2="947.17" stroke-width="0.9"/>
<line x1="1035.3" y1="950.00" x2="1037.3" y2="950.00" stroke-width="0.9"/>
<line x1="1035.3" y1="952.82" x2="1037.3" y2="952.82" stroke-width="0.9"/>
<line x1="1035.3" y1="955.64" x2="1037.3" y2="955.64" stroke-width="0.9"/>
<line x1="1035.3" y1="958.46" x2="1037.3" y2="958.46" stroke-width="0.9"/>
<line x1="1035.3" y1="961.28" x2="1037.3" y2="961.28" stroke-width="0.9"/>
<line x1="1035.3" y1="964.11" x2="1037.3" y2="964.11" stroke-width="0.9"/>
<line x1="1035.3" y1="966.93" x2="1037.3" y2="966.93" stroke-width="0.9"/>
<line x1="1035.3" y1="969.75" x2="1037.3" y2="969.75" stroke-width="0.9"/>
<line x1="1035.3" y1="972.57" x2="1037.3" y2="972.57" stroke-width="0.9"/>
<line x1="1035.3" y1="975.39" x2="1037.3" y2="975.39" stroke-width="0.9"/>
<line x1="1035.3" y1="978.22" x2="1037.3" y2="978.22" stroke-width="0.9"/>
<line x1="1035.3" y1="981.04" x2="1037.3" y2="981.04" stroke-width="0.9"/>
<line x1="1035.3" y1="983.86" x2="1037.3" y2="983.86" stroke-width="0.9"/>
<line x1="1035.3" y1="986.68" x2="1037.3" y2="986.68" stroke-width="0.9"/>
<line x1="1035.3" y1="989.50" x2="1037.3" y2="989.50" stroke-width="0.9"/>
<line x1="1035.3" y1="992.33" x2="1037.3" y2="992.33" stroke-width="0.9"/>
<line x1="1035.3" y1="995.15" x2="1037.3" y2="995.15" stroke-width="0.9"/>
<line x1="1035.3" y1="997.97" x2="1037.3" y2="997.97" stroke-width="0.9"/>
<line x1="1035.3" y1="1000.79" x2="1037.3" y2="1000.79" stroke-width="0.9"/>
<line x1="1035.3" y1="1003.61" x2="1037.3" y2="1003.61" stroke-width="0.9"/>
<line x1="1035.3" y1="1006.44" x2="1037.3" y2="1006.44" stroke-width="0.9"/>
<line x1="1035.3" y1="1009.26" x2="1037.3" y2="1009.26" stroke-width="0.9"/>
<line x1="1035.3" y1="1012.08" x2="1037.3" y2="1012.08" stroke-width="0.9"/>
<line x1="1035.3" y1="1014.90" x2="1037.3" y2="1014.90" stroke-width="0.9"/>
<line x1="1035.3" y1="1017.72" x2="1037.3" y2="1017.72" stroke-width="0.9"/>
<line x1="1035.3" y1="1020.55" x2="1037.3" y2="1020.55" stroke-width="0.9"/>
<line x1="1035.3" y1="1023.37" x2="1037.3" y2="1023.37" stroke-width="0.9"/>
<line x1="1035.3" y1="1026.19" x2="1037.3" y2="1026.19" stroke-width="0.9"/>
<line x1="1035.3" y1="1029.01" x2="1037.3" y2="1029.01" stroke-width="0.9"/>
<line x1="1035.3" y1="1031.83" x2="1037.3" y2="1031.83" stroke-width="0.9"/>
<line x1="1035.3" y1="1034.66" x2="1037.3" y2="1034.66" stroke-width="0.9"/>
<line x1="1035.3" y1="1037.48" x2="1037.3" y2="1037.48" stroke-width="0.9"/>
<line x1="1035.3" y1="1040.30" x2="1037.3" y2="1040.30" stroke-width="0.9"/>
</g>
<g font-size="11.2" fill="#1c1c1c" text-anchor="end">
<text x="1074.6" y="455.1" letter-spacing="0.15">10400</text>
<text x="1074.6" y="468.5" letter-spacing="0.15">10300</text>
<text x="1074.6" y="483.4" letter-spacing="0.15">10200</text>
<text x="1074.6" y="496.8" letter-spacing="0.15">10100</text>
<text x="1074.6" y="511.7" letter-spacing="0.15">10000</text>
<text x="1075" y="526.8">9<tspan dx="2.6">900</tspan></text>
<text x="1075" y="541.7">9<tspan dx="2.6">800</tspan></text>
<text x="1075" y="556.1">9<tspan dx="2.6">700</tspan></text>
<text x="1075" y="571.1">9<tspan dx="2.6">600</tspan></text>
<text x="1075" y="587.1">9<tspan dx="2.6">500</tspan></text>
<text x="1075" y="601.5">9<tspan dx="2.6">400</tspan></text>
<text x="1075" y="617.6">9<tspan dx="2.6">300</tspan></text>
<text x="1075" y="632.9">9<tspan dx="2.6">200</tspan></text>
<text x="1075" y="649.1">9<tspan dx="2.6">100</tspan></text>
<text x="1075" y="665.4">9<tspan dx="2.6">000</tspan></text>
<text x="1075" y="681.6">8<tspan dx="2.6">900</tspan></text>
<text x="1075" y="698.0">8<tspan dx="2.6">800</tspan></text>
<text x="1075" y="715.3">8<tspan dx="2.6">700</tspan></text>
<text x="1075" y="731.7">8<tspan dx="2.6">600</tspan></text>
<text x="1075" y="749.3">8<tspan dx="2.6">500</tspan></text>
<text x="1075" y="766.9">8<tspan dx="2.6">400</tspan></text>
<text x="1075" y="784.4">8<tspan dx="2.6">300</tspan></text>
<text x="1075" y="801.9">8<tspan dx="2.6">200</tspan></text>
<text x="1075" y="820.4">8<tspan dx="2.6">100</tspan></text>
<text x="1075" y="838.0">8<tspan dx="2.6">000</tspan></text>
<text x="1075" y="856.6">7<tspan dx="2.6">900</tspan></text>
<text x="1075" y="875.1">7<tspan dx="2.6">800</tspan></text>
<text x="1075" y="894.5">7<tspan dx="2.6">700</tspan></text>
<text x="1077.8" y="913.3" letter-spacing="1.6">85</text>
<text x="1077.8" y="927.3" letter-spacing="1.6">80</text>
<text x="1077.8" y="941.2" letter-spacing="1.6">75</text>
<text x="1077.8" y="955.1" letter-spacing="1.6">70</text>
<text x="1077.8" y="969.4" letter-spacing="1.6">65</text>
<text x="1077.8" y="984.3" letter-spacing="1.6">60</text>
<text x="1077.8" y="998.2" letter-spacing="1.6">55</text>
<text x="1077.8" y="1012.1" letter-spacing="1.6">50</text>
<text x="1077.8" y="1026.5" letter-spacing="1.6">45</text>
<text x="1077.8" y="1040.3" letter-spacing="1.6">40</text>
</g>
<rect x="1035.3" y="886" width="13.4" height="8.3" fill="#fff" stroke="#222" stroke-width="1"/>
<text x="1036.4" y="893.2" font-size="7.5" fill="#5a5ab0">x10</text>
<g stroke="#222" stroke-width="1.2">
<line x1="150.5" y1="1043.6" x2="150.5" y2="1054.3"/>
<line x1="179.8" y1="1043.6" x2="179.8" y2="1054.3"/>
<line x1="209.1" y1="1043.6" x2="209.1" y2="1054.3"/>
<line x1="239.0" y1="1043.6" x2="239.0" y2="1054.3"/>
<line x1="274.2" y1="1043.6" x2="274.2" y2="1054.3"/>
<line x1="304.3" y1="1043.6" x2="304.3" y2="1054.3"/>
<line x1="333.7" y1="1043.6" x2="333.7" y2="1054.3"/>
<line x1="363.0" y1="1043.6" x2="363.0" y2="1054.3"/>
<line x1="393.1" y1="1043.6" x2="393.1" y2="1054.3"/>
<line x1="423.2" y1="1043.6" x2="423.2" y2="1054.3"/>
<line x1="452.0" y1="1043.6" x2="452.0" y2="1054.3"/>
<line x1="481.3" y1="1043.6" x2="481.3" y2="1054.3"/>
<line x1="510.7" y1="1043.6" x2="510.7" y2="1054.3"/>
<line x1="540.5" y1="1043.6" x2="540.5" y2="1054.3"/>
<line x1="569.9" y1="1043.6" x2="569.9" y2="1054.3"/>
<line x1="593.3" y1="1043.6" x2="593.3" y2="1054.3"/>
<line x1="623.2" y1="1043.6" x2="623.2" y2="1054.3"/>
<line x1="652.5" y1="1043.6" x2="652.5" y2="1054.3"/>
<line x1="682.1" y1="1043.6" x2="682.1" y2="1054.3"/>
<line x1="712.0" y1="1043.6" x2="712.0" y2="1054.3"/>
<line x1="742.5" y1="1043.6" x2="742.5" y2="1054.3"/>
<line x1="771.9" y1="1043.6" x2="771.9" y2="1054.3"/>
<line x1="801.2" y1="1043.6" x2="801.2" y2="1054.3"/>
<line x1="830.8" y1="1043.6" x2="830.8" y2="1054.3"/>
<line x1="860.7" y1="1043.6" x2="860.7" y2="1054.3"/>
<line x1="890.8" y1="1043.6" x2="890.8" y2="1054.3"/>
<line x1="919.3" y1="1043.6" x2="919.3" y2="1054.3"/>
<line x1="949.2" y1="1043.6" x2="949.2" y2="1054.3"/>
<line x1="979.3" y1="1043.6" x2="979.3" y2="1054.3"/>
<line x1="1008.7" y1="1043.6" x2="1008.7" y2="1054.3"/>
<line x1="132.3" y1="1043.6" x2="132.3" y2="1066"/>
<line x1="267.5" y1="1043.6" x2="267.5" y2="1066"/>
<line x1="393.1" y1="1043.6" x2="393.1" y2="1066"/>
<line x1="516.5" y1="1043.6" x2="516.5" y2="1066"/>
<line x1="641.3" y1="1043.6" x2="641.3" y2="1066"/>
<line x1="771.9" y1="1043.6" x2="771.9" y2="1066"/>
<line x1="895.9" y1="1043.6" x2="895.9" y2="1066"/>
</g>
<g font-size="11" fill="#1c1c1c">
<text x="122.3" y="1053.4">30</text>
<text x="151.1" y="1053.4">6</text>
<text x="180.4" y="1053.4">13</text>
<text x="209.7" y="1053.4">20</text>
<text x="239.6" y="1053.4">27</text>
<text x="274.8" y="1053.4">3</text>
<text x="304.9" y="1053.4">10</text>
<text x="334.3" y="1053.4">17</text>
<text x="363.6" y="1053.4">24</text>
<text x="393.7" y="1053.4">3</text>
<text x="423.8" y="1053.4">10</text>
<text x="452.6" y="1053.4">17</text>
<text x="481.9" y="1053.4">24</text>
<text x="511.3" y="1053.4">31</text>
<text x="541.1" y="1053.4">7</text>
<text x="570.5" y="1053.4">14</text>
<text x="593.9" y="1053.4">21</text>
<text x="623.8" y="1053.4">28</text>
<text x="653.1" y="1053.4">5</text>
<text x="682.7" y="1053.4">12</text>
<text x="712.6" y="1053.4">19</text>
<text x="743.1" y="1053.4">26</text>
<text x="772.5" y="1053.4">2</text>
<text x="801.8" y="1053.4">9</text>
<text x="831.4" y="1053.4">16</text>
<text x="861.3" y="1053.4">23</text>
<text x="891.4" y="1053.4">30</text>
<text x="919.9" y="1053.4">7</text>
<text x="949.8" y="1053.4">14</text>
<text x="979.9" y="1053.4">21</text>
<text x="1009.3" y="1053.4">28</text>
<text x="132.9" y="1064.4">2025</text>
<text x="268.1" y="1064.4">February</text>
<text x="393.7" y="1064.4">March</text>
<text x="517.1" y="1064.4">April</text>
<text x="641.9" y="1064.4">May</text>
<text x="772.5" y="1064.4">June</text>
<text x="896.5" y="1064.4">July</text>
<path d="M1032.5 1064.5 L1035 1057.5" stroke="#444" stroke-width="1.1"/>
</g>
</g>
</svg>
<div class="bx" style="left:122.8px;top:440.8px;width:109.2px;height:38.7px;background:#fff;border-right:1px solid #8a8a8a;border-bottom:1px solid #8a8a8a"></div>
<div class="bx" style="left:122.8px;top:908.6px;width:208.3px;height:128.6px;background:#fff;border:1px solid #9a9a9a;border-left:none"></div>
<div class="t" id="hdr" style="left:810.60px;top:78.0px;font-size:24.4px;transform:scaleX(0.9082)">Daily Update – July 31, 2025</div>
<div class="t" id="h1a" style="left:105.50px;top:169.1px;font-size:22.0px;-webkit-text-stroke:0.45px #111;transform:scaleX(1.0581)">Gold (Oct</div>
<div class="t" id="h1b0" style="left:227.60px;top:169.1px;font-size:22.0px;-webkit-text-stroke:0.45px #111;transform:scaleX(1.0573)">‘25) – Neutral</div>
<div class="t" id="h1b1" style="left:373.20px;top:169.1px;font-size:22.0px;-webkit-text-stroke:0.45px #111;transform:scaleX(1.0387)">Trend / Sell</div>
<div class="t" id="h1b2" style="left:492.70px;top:169.1px;font-size:22.0px;-webkit-text-stroke:0.45px #111;transform:scaleX(1.0666)">on a Breakout</div>
<div class="t" id="h1b3" style="left:646.80px;top:169.1px;font-size:22.0px;-webkit-text-stroke:0.45px #111;transform:scaleX(1.0502)">/ Key Support</div>
<div class="t" id="h1b4" style="left:794.00px;top:169.1px;font-size:22.0px;-webkit-text-stroke:0.45px #111;transform:scaleX(1.0103)">at Rs. 98,000</div>
<div class="t" id="b1a" style="left:177.20px;top:224.6px;font-size:19.9px;-webkit-text-stroke:0.45px #111;transform:scaleX(1.0874)">Neutral Trend:</div>
<div class="t" id="b1b0" style="left:318.30px;top:224.6px;font-size:19.9px;transform:scaleX(1.0316)">Sell on a breakout</div>
<div class="t" id="b1b1" style="left:489.50px;top:224.6px;font-size:19.9px;transform:scaleX(1.0479)">below key support</div>
<div class="t" id="b1b2" style="left:664.00px;top:224.6px;font-size:19.9px;transform:scaleX(0.9893)">(Rs. 98,000) /</div>
<div class="t" id="b1b3" style="left:786.50px;top:224.6px;font-size:19.9px;transform:scaleX(0.9957)">next resistance at Rs. 102,000.</div>
<div class="t" id="b20" style="left:176.20px;top:260.7px;font-size:19.9px;transform:scaleX(1.0644)">No new directional</div>
<div class="t" id="b21" style="left:356.80px;top:260.7px;font-size:19.9px;transform:scaleX(1.0095)">trades are</div>
<div class="t" id="b22" style="left:452.00px;top:260.7px;font-size:19.9px;transform:scaleX(1.0683)">recommended</div>
<div class="t" id="b23" style="left:592.00px;top:260.7px;font-size:19.9px;transform:scaleX(1.1223)">currently /</div>
<div class="t" id="b24" style="left:695.50px;top:260.7px;font-size:19.9px;transform:scaleX(0.9852)">wait for a</div>
<div class="t" id="b25" style="left:781.50px;top:260.7px;font-size:19.9px;transform:scaleX(1.0243)">breakout below Rs. 98,000.</div>
<div class="t" id="t1a" style="left:291.50px;top:312.7px;font-size:14.5px;-webkit-text-stroke:0.3px #111;transform:scaleX(0.9497)">Pivot Point Analysis - Support &amp; Resistance</div>
<div class="t" id="t1b" style="left:621.60px;top:312.7px;font-size:14.5px;-webkit-text-stroke:0.3px #111;transform:scaleX(0.9319)">Performance (% Change)</div>
<div class="t" id="t1c" style="left:838.70px;top:312.7px;font-size:14.5px;-webkit-text-stroke:0.3px #111;transform:scaleX(0.9780)">Trend, Volatility &amp; Open Interest</div>
<div class="t" id="t2a" style="left:121.50px;top:340.7px;font-size:14.5px;-webkit-text-stroke:0.3px #111;transform:scaleX(0.9647)">Domestic - MCX</div>
<div class="t" id="t2b" style="left:267.60px;top:340.7px;font-size:14.5px;-webkit-text-stroke:0.3px #111;transform:scaleX(0.8816)">S2</div>
<div class="t" id="t2c" style="left:341.70px;top:340.7px;font-size:14.5px;-webkit-text-stroke:0.3px #111;transform:scaleX(0.8689)">S1</div>
<div class="t" id="t2d" style="left:408.00px;top:340.7px;font-size:14.5px;-webkit-text-stroke:0.3px #111;transform:scaleX(0.8630)">Close</div>
<div class="t" id="t2e" style="left:488.40px;top:340.7px;font-size:14.5px;-webkit-text-stroke:0.3px #111;transform:scaleX(0.9202)">R1</div>
<div class="t" id="t2f" style="left:565.00px;top:340.7px;font-size:14.5px;-webkit-text-stroke:0.3px #111;transform:scaleX(0.9137)">R2</div>
<div class="t" id="t2g" style="left:621.60px;top:340.7px;font-size:14.5px;-webkit-text-stroke:0.3px #111;transform:scaleX(0.9566)">1 Day</div>
<div class="t" id="t2h" style="left:681.50px;top:340.7px;font-size:14.5px;-webkit-text-stroke:0.3px #111;transform:scaleX(1.0126)">1 Wk</div>
<div class="t" id="t2i" style="left:736.40px;top:340.7px;font-size:14.5px;-webkit-text-stroke:0.3px #111;transform:scaleX(0.9412)">4 Wks</div>
<div class="t" id="t2j" style="left:800.40px;top:340.7px;font-size:14.5px;-webkit-text-stroke:0.3px #111;transform:scaleX(0.9968)">Short</div>
<div class="t" id="t2k" style="left:868.50px;top:340.7px;font-size:14.5px;-webkit-text-stroke:0.3px #111;transform:scaleX(1.0157)">Major</div>
<div class="t" id="t2l" style="left:926.20px;top:340.7px;font-size:14.5px;-webkit-text-stroke:0.3px #111;transform:scaleX(1.0225)">Volatility</div>
<div class="t" id="t2m" style="left:1007.60px;top:340.7px;font-size:14.5px;-webkit-text-stroke:0.3px #111;transform:scaleX(0.9097)">OI Change</div>
<div class="t" id="t3" style="left:110.30px;top:368.6px;font-size:14.5px;-webkit-text-stroke:0.3px #111;transform:scaleX(0.9386)">Precious Metals</div>
<div class="t" id="t4a" style="left:110.30px;top:397.2px;font-size:14.5px;transform:scaleX(0.9172)">Gold</div>
<div class="t" id="t4b" style="left:263.60px;top:397.2px;font-size:14.5px;color:#2fa862;transform:scaleX(0.9328)">98,108</div>
<div class="t" id="t4c" style="left:338.50px;top:397.2px;font-size:14.5px;color:#2fa862;transform:scaleX(0.9258)">98,545</div>
<div class="t" id="t4d" style="left:412.60px;top:397.2px;font-size:14.5px;transform:scaleX(0.9154)">98,983</div>
<div class="t" id="t4e" style="left:487.30px;top:397.2px;font-size:14.5px;color:#d12a35;transform:scaleX(0.9281)">99,630</div>
<div class="t" id="t4f" style="left:555.60px;top:397.2px;font-size:14.5px;color:#d12a35;transform:scaleX(0.9318)">100,278</div>
<div class="t" id="t4g" style="left:634.80px;top:397.2px;font-size:14.5px;color:#a32631;transform:scaleX(0.9465)">-0.14</div>
<div class="t" id="t4h" style="left:693.00px;top:397.2px;font-size:14.5px;color:#a32631;transform:scaleX(0.9339)">-1.30</div>
<div class="t" id="t4i" style="left:754.70px;top:397.2px;font-size:14.5px;color:#29a3d8;transform:scaleX(0.9713)">0.76</div>
<div class="t" id="t4j" style="left:800.40px;top:397.2px;font-size:14.5px;color:#a32631;transform:scaleX(0.9758)">Down</div>
<div class="t" id="t4k" style="left:877.30px;top:397.2px;font-size:14.5px;color:#2fa862;transform:scaleX(1.0389)">Up</div>
<div class="t" id="t4l" style="left:931.20px;top:397.2px;font-size:14.5px;transform:scaleX(0.9753)">Normal</div>
<div class="t" id="t4m" style="left:996.70px;top:397.2px;font-size:14.5px;color:#a32631;transform:scaleX(0.9486)">Profit Booking</div>
<div class="t" id="dc" style="left:136.50px;top:454.8px;font-size:16.9px;transform:scaleX(0.9745)">Daily Chart</div>
<div class="t" id="r1a" style="left:137.60px;top:923.4px;font-size:16.7px;transform:scaleX(0.9792)">Gold (Oct</div>
<div class="t" id="r1b" style="left:223.20px;top:923.4px;font-size:16.7px;transform:scaleX(1.0031)">‘25)—Trend</div>
<div class="t" id="r2" style="left:137.60px;top:952.7px;font-size:16.7px;transform:scaleX(1.0013)">remains Neutral until we</div>
<div class="t" id="r3" style="left:136.70px;top:981.9px;font-size:16.7px;transform:scaleX(0.9966)">close below key support</div>
<div class="t" id="r4" style="left:137.60px;top:1011.6px;font-size:16.7px;transform:scaleX(0.9246)">at Rs. 98,000.</div>
<div class="t" id="n10" style="left:110.20px;top:1079.2px;font-size:15.1px;font-style:italic;transform:scaleX(0.9214)">Please note: Top Panel: 1)</div>
<div class="t" id="n11" style="left:278.30px;top:1079.2px;font-size:15.1px;font-style:italic;transform:scaleX(0.9277)">The dashed black line</div>
<div class="t" id="n12" style="left:418.70px;top:1079.2px;font-size:15.1px;font-style:italic;transform:scaleX(0.9318)">is the 20-period EMA, while</div>
<div class="t" id="n13" style="left:593.70px;top:1079.2px;font-size:15.1px;font-style:italic;transform:scaleX(0.9896)">the solid red line is the</div>
<div class="t" id="n14" style="left:745.60px;top:1079.2px;font-size:15.1px;font-style:italic;transform:scaleX(0.9915)">50-period Weighted MA;</div>
<div class="t" id="n15" style="left:910.50px;top:1079.2px;font-size:15.1px;font-style:italic;transform:scaleX(0.9932)">the intermediate-term trend</div>
<div class="t" id="n20" style="left:118.40px;top:1104.8px;font-size:15.1px;font-style:italic;transform:scaleX(0.9535)">is bullish, when the 20-ema</div>
<div class="t" id="n21" style="left:297.60px;top:1104.8px;font-size:15.1px;font-style:italic;transform:scaleX(0.9421)">is higher than the</div>
<div class="t" id="n22" style="left:411.00px;top:1104.8px;font-size:15.1px;font-style:italic;transform:scaleX(0.9379)">50-wma and vice versa; 2)</div>
<div class="t" id="n23" style="left:591.80px;top:1104.8px;font-size:15.1px;font-style:italic;transform:scaleX(0.9006)">‘Blue’</div>
<div class="t" id="n24" style="left:640.50px;top:1104.8px;font-size:15.1px;font-style:italic;transform:scaleX(0.9507)">bars indicate positive</div>
<div class="t" id="n25" style="left:780.30px;top:1104.8px;font-size:15.1px;font-style:italic;transform:scaleX(0.9959)">short-term momentum,</div>
<div class="t" id="n26" style="left:935.60px;top:1104.8px;font-size:15.1px;font-style:italic;transform:scaleX(0.9626)">and oscillator readings,</div>
<div class="t" id="n30" style="left:113.60px;top:1129.8px;font-size:15.1px;font-style:italic;transform:scaleX(0.9452)">and suggest traders consider</div>
<div class="t" id="n31" style="left:304.30px;top:1129.8px;font-size:15.1px;font-style:italic;transform:scaleX(0.9382)">buy-setups;</div>
<div class="t" id="n32" style="left:392.00px;top:1129.8px;font-size:15.1px;font-style:italic;transform:scaleX(1.0220)">‘red’</div>
<div class="t" id="n33" style="left:435.00px;top:1129.8px;font-size:15.1px;font-style:italic;transform:scaleX(0.9085)">bars on the other hand</div>
<div class="t" id="n34" style="left:578.00px;top:1129.8px;font-size:15.1px;font-style:italic;transform:scaleX(1.0117)">indicate bearish momentum.</div>
<div class="t" id="n35" style="left:773.00px;top:1129.8px;font-size:15.1px;font-style:italic;transform:scaleX(0.9423)">Bottom Panel: Shows the</div>
<div class="t" id="n36" style="left:937.50px;top:1129.8px;font-size:15.1px;font-style:italic;transform:scaleX(0.9652)">14-period RSI indicator.</div>
<div class="t" id="d10" style="left:106.20px;top:1174.0px;font-size:18.0px;transform:scaleX(0.9981)">Disclaimer: There is a risk of</div>
<div class="t" id="d11" style="left:338.40px;top:1174.0px;font-size:18.0px;transform:scaleX(1.0359)">loss in trading in</div>
<div class="t" id="d12" style="left:478.40px;top:1174.0px;font-size:18.0px;transform:scaleX(1.0506)">derivatives and the report</div>
<div class="t" id="d13" style="left:697.20px;top:1174.0px;font-size:18.0px;transform:scaleX(1.0507)">is not to be construed</div>
<div class="t" id="d14" style="left:882.20px;top:1174.0px;font-size:18.0px;transform:scaleX(1.0155)">as investment advice. The</div>
<div class="t" id="d20" style="left:106.20px;top:1206.8px;font-size:18.0px;transform:scaleX(1.0567)">information provided in this</div>
<div class="t" id="d21" style="left:338.40px;top:1206.8px;font-size:18.0px;transform:scaleX(1.0195)">report is intended solely</div>
<div class="t" id="d22" style="left:537.50px;top:1206.8px;font-size:18.0px;transform:scaleX(1.0628)">for informative</div>
<div class="t" id="d23" style="left:662.50px;top:1206.8px;font-size:18.0px;transform:scaleX(1.0129)">purposes. The author,</div>
<div class="t" id="d24" style="left:842.70px;top:1206.8px;font-size:18.0px;transform:scaleX(1.0366)">directors and other employees</div>
<div class="t" id="d30" style="left:106.20px;top:1239.8px;font-size:18.0px;transform:scaleX(1.0540)">of CC Commodity Info</div>
<div class="t" id="d31" style="left:298.00px;top:1239.8px;font-size:18.0px;transform:scaleX(0.9808)">Services LLP cannot</div>
<div class="t" id="d32" style="left:465.20px;top:1239.8px;font-size:18.0px;transform:scaleX(1.0557)">be held responsible</div>
<div class="t" id="d33" style="left:635.60px;top:1239.8px;font-size:18.0px;transform:scaleX(1.0450)">for the accuracy of the</div>
<div class="t" id="d34" style="left:827.00px;top:1239.8px;font-size:18.0px;transform:scaleX(1.0662)">information presented herein or</div>
<div class="t" id="d40" style="left:107.20px;top:1272.2px;font-size:18.0px;transform:scaleX(1.0390)">for the results of the</div>
<div class="t" id="d41" style="left:277.00px;top:1272.2px;font-size:18.0px;transform:scaleX(1.0379)">positions taken based</div>
<div class="t" id="d42" style="left:461.50px;top:1272.2px;font-size:18.0px;transform:scaleX(1.0403)">on the opinions</div>
<div class="t" id="d43" style="left:593.00px;top:1272.2px;font-size:18.0px;transform:scaleX(1.0384)">expressed above.</div>
<div class="bx" style="left:109px;top:1440.1px;width:985px;height:3.1px;background:#000"></div>
<div class="bx" style="left:107px;top:1508.8px;width:2px;height:2.2px;background:#222"></div>
</body></html>
